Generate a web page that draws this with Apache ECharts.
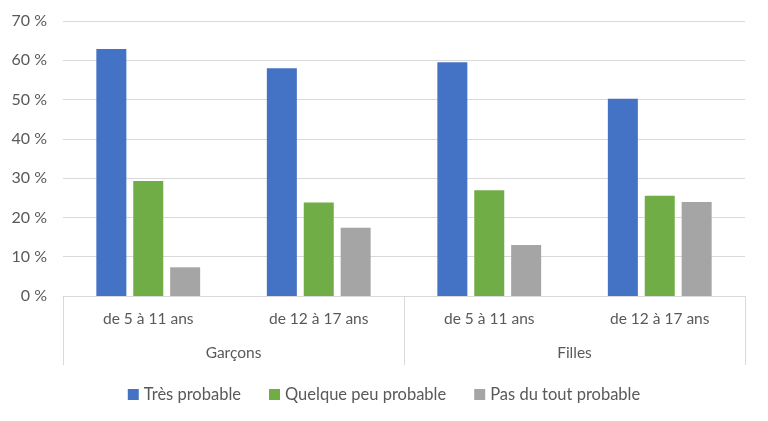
<!DOCTYPE html>
<html>
<head>
<meta charset="utf-8">
<script src="https://cdn.jsdelivr.net/npm/echarts@6/dist/echarts.min.js"></script>
<style>
  html, body { margin: 0; padding: 0; background: #fff; }
  #main { width: 768px; height: 421px; }
</style>
</head>
<body>
<div id="main"></div>
<script>
// données (en %)
var ages = ['de 5 à 11 ans', 'de 12 à 17 ans', 'de 5 à 11 ans', 'de 12 à 17 ans'];
var sexes = ['Garçons', 'Filles'];
var tresProbable = [62.9, 58.0, 59.5, 50.2];
var quelquePeu = [29.3, 23.8, 26.9, 25.5];
var pasDuTout = [7.3, 17.4, 13.0, 23.9];

var font = 'Lato, "Open Sans", sans-serif';
var textColor = '#595959';
var lineColor = '#d9d9d9';

var myChart = echarts.init(document.getElementById('main'));

var option = {
    animation: false,
    textStyle: { fontFamily: font },
    grid: { left: 63, right: 23, top: 21, bottom: 125 },
    legend: {
        data: ['Très probable', 'Quelque peu probable', 'Pas du tout probable'],
        left: 'center',
        top: 381,
        icon: 'rect',
        itemWidth: 11,
        itemHeight: 11,
        itemGap: 28,
        textStyle: { color: textColor, fontSize: 16.5, fontFamily: font }
    },
    xAxis: [
        {
            type: 'category',
            data: ages,
            axisLine: { lineStyle: { color: lineColor } },
            axisTick: { show: false },
            axisLabel: { color: textColor, fontSize: 15.5, margin: 15, fontFamily: font }
        },
        {
            type: 'category',
            data: sexes,
            position: 'bottom',
            axisLine: { show: false },
            axisTick: { show: true, length: 69, lineStyle: { color: lineColor } },
            axisLabel: { color: textColor, fontSize: 15.5, margin: 49, fontFamily: font }
        }
    ],
    yAxis: {
        type: 'value',
        min: 0,
        max: 70,
        interval: 10,
        axisLine: { show: false },
        axisTick: { show: false },
        splitLine: { lineStyle: { color: lineColor } },
        axisLabel: {
            color: textColor, fontSize: 16, margin: 16, fontFamily: font,
            formatter: '{value} %'
        }
    },
    series: [
        {
            name: 'Très probable', type: 'bar', xAxisIndex: 0,
            data: tresProbable, barWidth: 30, barGap: '23%',
            itemStyle: { color: '#4472C4' }
        },
        {
            name: 'Quelque peu probable', type: 'bar', xAxisIndex: 0,
            data: quelquePeu, barWidth: 30, barGap: '23%',
            itemStyle: { color: '#70AD47' }
        },
        {
            name: 'Pas du tout probable', type: 'bar', xAxisIndex: 0,
            data: pasDuTout, barWidth: 30, barGap: '23%',
            itemStyle: { color: '#A5A5A5' }
        }
    ]
};
myChart.setOption(option);
</script>
</body>
</html>
